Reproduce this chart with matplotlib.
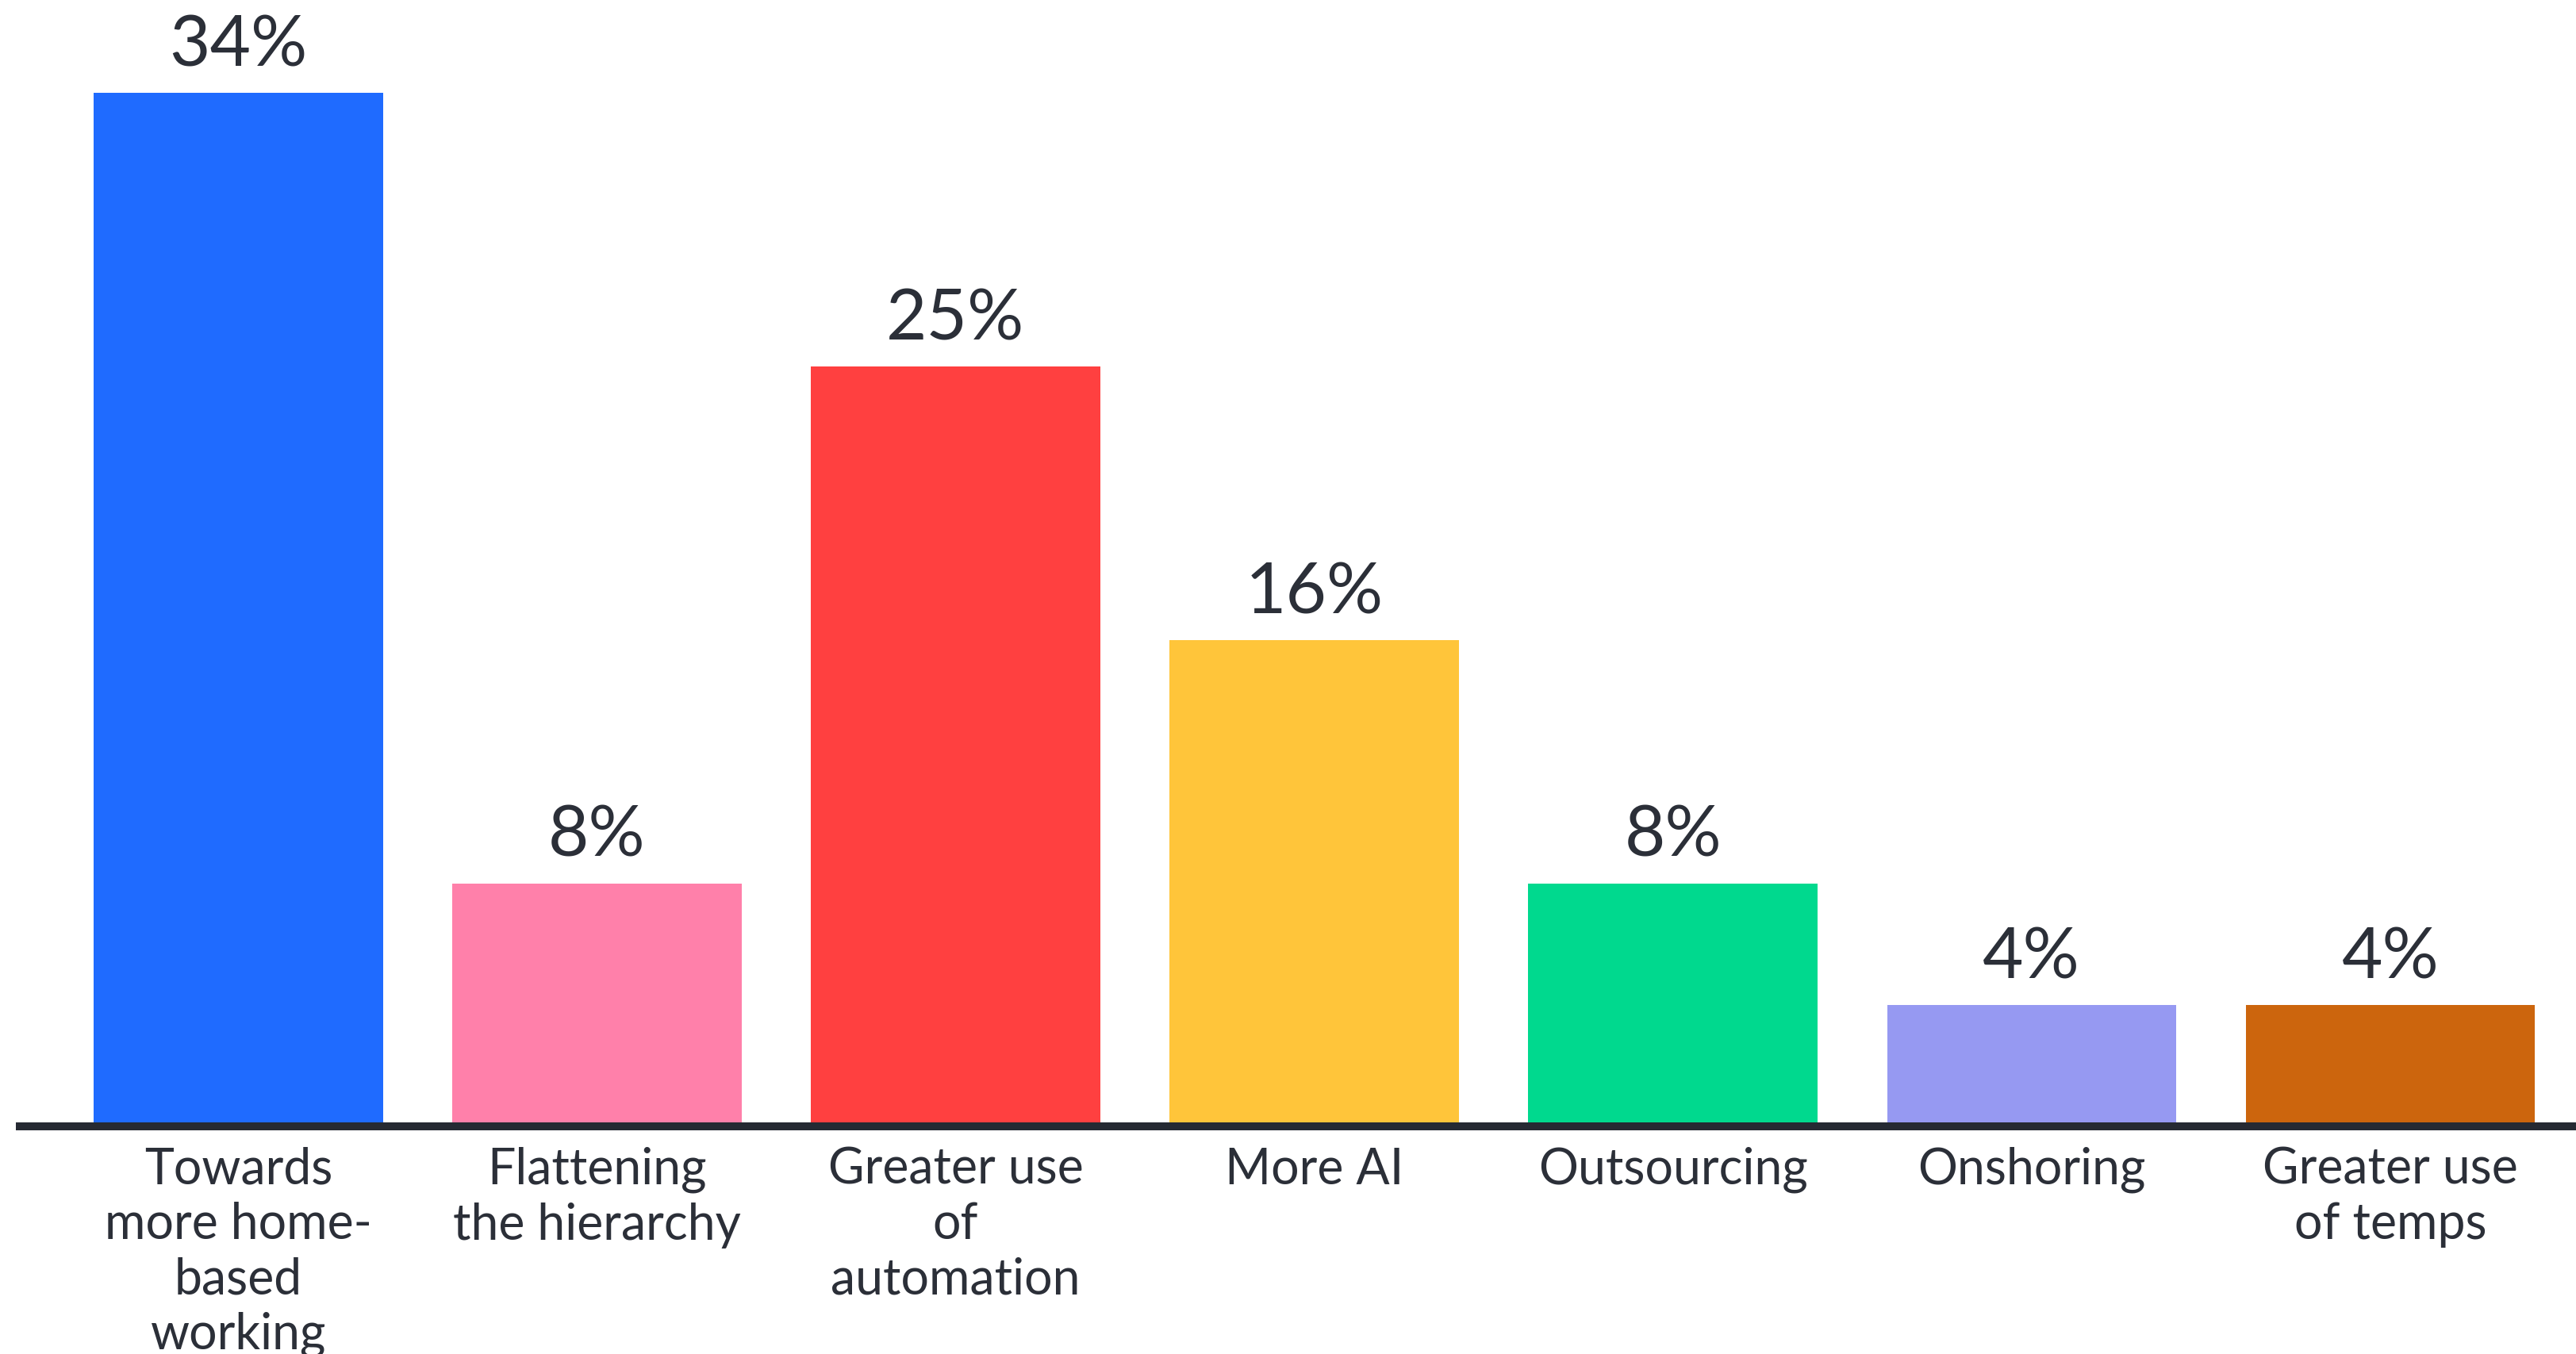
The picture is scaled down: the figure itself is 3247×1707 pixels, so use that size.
import matplotlib.pyplot as plt

# Data
categories = ['Towards\nmore home-\nbased\nworking', 'Flattening\nthe hierarchy',
              'Greater use\nof\nautomation', 'More AI', 'Outsourcing',
              'Onshoring', 'Greater use\nof temps']
values = [34, 8, 25, 16, 8, 4, 4]
colors = ['#1f6bff', '#ff80aa', '#ff4040', '#ffc53a', '#00d98e', '#9699f2', '#cc650d']

text_color = '#2b2f38'
plt.rcParams['font.family'] = ['Lato', 'DejaVu Sans']

fig = plt.figure(figsize=(32.47, 17.08), dpi=100)
ax = fig.add_axes([25 / 3247, 287 / 1708, 3222 / 3247, 1421 / 1708])

x = range(len(values))
ax.bar(x, values, width=0.806, color=colors, zorder=2)

for i, v in enumerate(values):
    ax.annotate(f'{v}%', (i, v), xytext=(0, 25), textcoords='offset points',
                ha='center', va='baseline', fontsize=64, color=text_color)

ax.set_xlim(-0.609, 6.518)
ax.set_ylim(0, 37.09)

ax.set_xticks(list(x))
ax.set_xticklabels(categories, fontsize=45, color=text_color, linespacing=1.24)
ax.tick_params(axis='x', length=0, pad=18)
ax.set_yticks([])

for side in ['top', 'right', 'left']:
    ax.spines[side].set_visible(False)
ax.spines['bottom'].set_linewidth(7.2)
ax.spines['bottom'].set_color('#262a33')
ax.spines['bottom'].set_zorder(3)

fig.savefig('out.png', dpi=100)
